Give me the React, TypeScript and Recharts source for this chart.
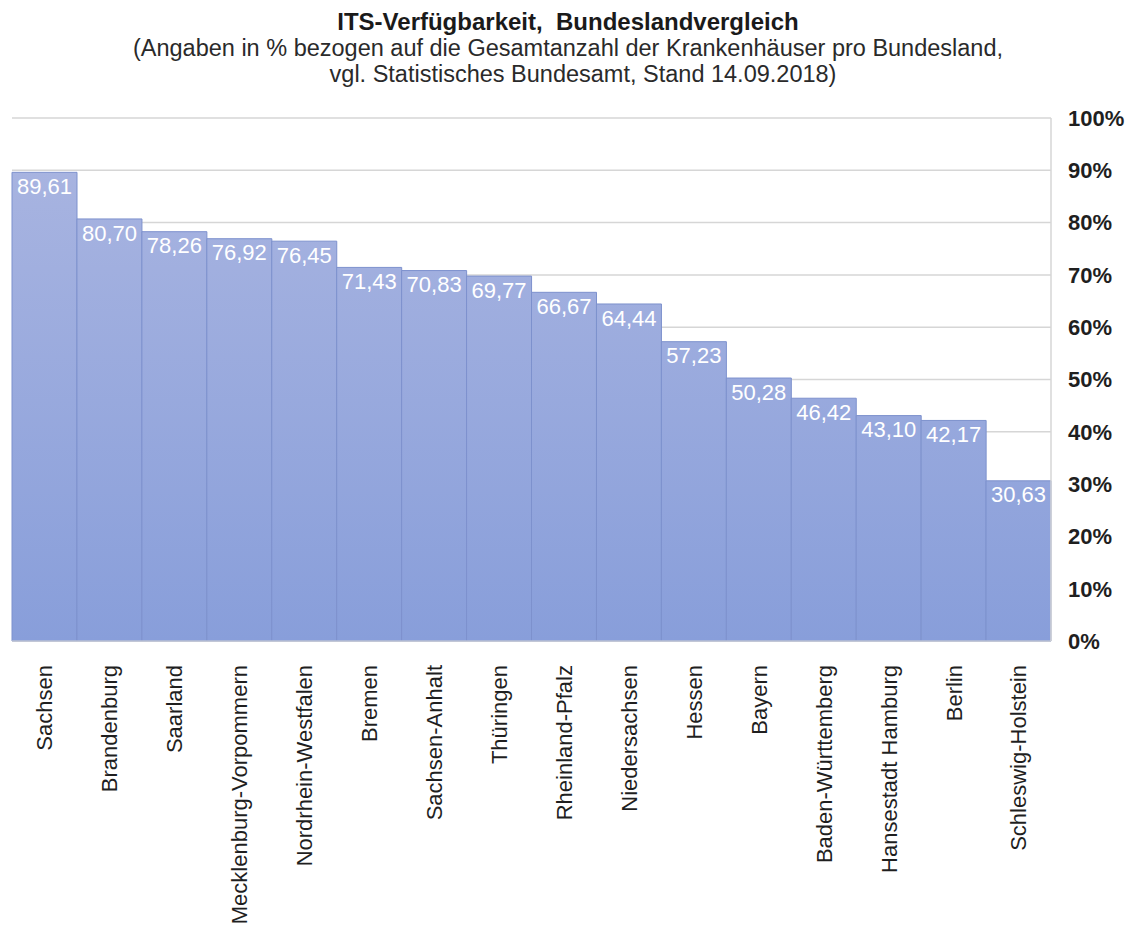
import React from "react";
import { Bar, BarChart, CartesianGrid, LabelList, XAxis, YAxis } from "recharts";

const laender = [
  "Sachsen",
  "Brandenburg",
  "Saarland",
  "Mecklenburg-Vorpommern",
  "Nordrhein-Westfalen",
  "Bremen",
  "Sachsen-Anhalt",
  "Thüringen",
  "Rheinland-Pfalz",
  "Niedersachsen",
  "Hessen",
  "Bayern",
  "Baden-Württemberg",
  "Hansestadt Hamburg",
  "Berlin",
  "Schleswig-Holstein",
];

const itsAnteil = [
  89.61, 80.7, 78.26, 76.92, 76.45, 71.43, 70.83, 69.77, 66.67, 64.44, 57.23, 50.28, 46.42,
  43.1, 42.17, 30.63,
];

const yTicks = [0, 10, 20, 30, 40, 50, 60, 70, 80, 90, 100];

const titel = "ITS-Verfügbarkeit,\u00a0 Bundeslandvergleich";
const untertitel = [
  "(Angaben in % bezogen auf die Gesamtanzahl der Krankenhäuser pro Bundesland,",
  "vgl. Statistisches Bundesamt, Stand 14.09.2018)",
];

const data = laender.map((land, i) => ({ land, wert: itsAnteil[i] }));

const FONT = '"Liberation Sans", Arial, sans-serif';

function LandTick({ x, y, payload }: any) {
  return (
    <g transform={`translate(${x},${y})`}>
      <text
        transform="rotate(-90)"
        x={-16}
        dy="0.36em"
        textAnchor="end"
        fontSize={22}
        fontFamily={FONT}
        fill="#1f1f1f"
      >
        {payload.value}
      </text>
    </g>
  );
}

const fmt = (v: any) => Number(v).toFixed(2).replace(".", ",");

export default function App() {
  return (
    <div style={{ position: "absolute", left: 0, top: 0, width: 1134, height: 931, background: "#fff" }}>
      <svg
        width={1134}
        height={110}
        style={{ position: "absolute", left: 0, top: 0, pointerEvents: "none" }}
      >
        <text x={568} y={30} textAnchor="middle" fontSize={24} fontWeight="bold" fontFamily={FONT} fill="#1a1a1a">
          {titel}
        </text>
        <text x={568} y={56} textAnchor="middle" fontSize={23.5} fontFamily={FONT} fill="#2a2a2a">
          {untertitel[0]}
        </text>
        <text x={583} y={82} textAnchor="middle" fontSize={23.5} fontFamily={FONT} fill="#2a2a2a">
          {untertitel[1]}
        </text>
      </svg>
      <BarChart
        width={1134}
        height={931}
        data={data}
        margin={{ top: 118, right: 0, left: 12, bottom: 0 }}
        barCategoryGap={0}
        style={{ fontFamily: FONT }}
      >
        <defs>
          <linearGradient id="itsFill" gradientUnits="userSpaceOnUse" x1="0" y1="118" x2="0" y2="641">
            <stop offset="0%" stopColor="#abb6e1" />
            <stop offset="100%" stopColor="#889eda" />
          </linearGradient>
        </defs>
        <CartesianGrid vertical={false} stroke="#d6d6d6" strokeWidth={1.5} />
        <XAxis
          dataKey="land"
          height={290}
          interval={0}
          tickLine={false}
          axisLine={{ stroke: "#d6d6d6" }}
          tick={<LandTick />}
        />
        <YAxis
          orientation="right"
          width={83}
          domain={[0, 100]}
          ticks={yTicks}
          tickFormatter={(v) => `${v}%`}
          tickLine={false}
          tickSize={0}
          tickMargin={17}
          axisLine={{ stroke: "#d6d6d6", strokeWidth: 1.5 }}
          tick={{ fontSize: 22, fontWeight: "bold", fill: "#1f1f1f", fontFamily: FONT }}
        />
        <Bar dataKey="wert" fill="url(#itsFill)" stroke="#7d91cd" strokeWidth={1} isAnimationActive={false}>
          <LabelList
            dataKey="wert"
            position="insideTop"
            offset={6}
            formatter={fmt}
            fill="#ffffff"
            fontSize={22}
            fontFamily={FONT}
          />
        </Bar>
      </BarChart>
    </div>
  );
}
